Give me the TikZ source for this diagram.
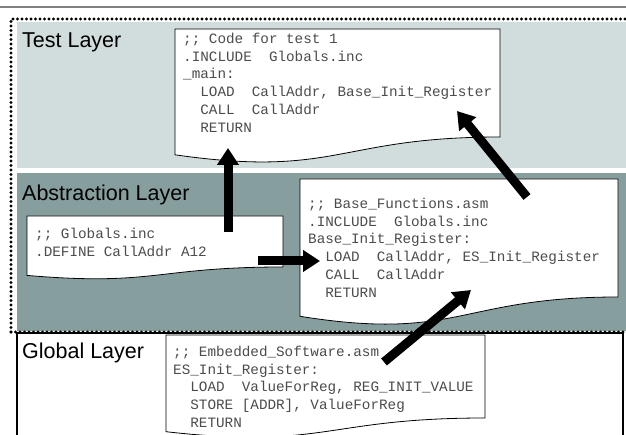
\documentclass[tikz,border=0pt]{standalone}
\usepackage{fontspec}
\setmainfont{Liberation Sans}
\setmonofont{Liberation Mono}
\usetikzlibrary{arrows.meta, positioning}
\definecolor{testfill}{RGB}{209,221,221}
\definecolor{absfill}{RGB}{134,158,158}
\definecolor{rulegray}{RGB}{128,128,128}
\newcommand{\layerfont}{\fontsize{21.5}{24}\selectfont}
\newcommand{\codefont}{\ttfamily\fontsize{14.3}{17.7}\selectfont}

\begin{document}
\begin{tikzpicture}[x=1pt, y=-1pt,
    layer/.style={anchor=base west, inner sep=0pt, font=\layerfont},
    code/.style={anchor=north west, inner sep=0pt, align=left, font=\codefont, text=black!70},
    doc/.style={draw=black, line width=0.8pt, fill=white},
    dots/.style={line width=3.2pt, line cap=round, dash pattern=on 0pt off 4.5pt},
    bigarrow/.style={line width=9pt, -{Triangle[width=21pt, length=17pt]}}]
    \useasboundingbox (0,0) rectangle (626,435);
    \clip (0,0) rectangle (626,435);

    % Rule at the top
    \draw[rulegray, line width=2pt] (0,7) -- (626,7);

    % Layers
    \fill[testfill] (17,22) rectangle (630,168);
    \fill[absfill] (17,173) rectangle (630,331);
    \draw[line width=2pt] (17,450) -- (17,333) -- (623,333) -- (623,450);
    \draw[dots] (11,332) -- (11,19) -- (640,19);
    \draw[dots] (11,332) -- (640,332);

    % Layer names
    \node[layer] (testname) at (22,48) {Test Layer};
    \node[layer] (absname) at (22,201) {Abstraction Layer};
    \node[layer] (globname) at (22,358) {Global Layer};

    % Code for test 1
    \draw[doc] (175,29) -- (500,29) -- (500,137) .. controls (337.5,137) and (337.5,178.1) .. (175,154.8) -- cycle;
    \node[code] (testcode) at (183,33) {;; Code for test 1\\.INCLUDE~~Globals.inc\\\_main:\\~~LOAD~~CallAddr, Base\_Init\_Register\\~~CALL~~CallAddr\\~~RETURN};

    % Globals.inc
    \draw[doc] (27,216) -- (283,216) -- (283,267) .. controls (155,267) and (155,286.4) .. (27,275.4) -- cycle;
    \node[code] (globcode) at (35,228) {;; Globals.inc\\.DEFINE CallAddr A12};

    % Base_Functions.asm
    \draw[doc] (300,179) -- (618,179) -- (618,297) .. controls (459,297) and (459,341.7) .. (300,316.3) -- cycle;
    \node[code] (basecode) at (308,198) {;; Base\_Functions.asm\\.INCLUDE~~Globals.inc\\Base\_Init\_Register:\\~~LOAD~~CallAddr, ES\_Init\_Register\\~~CALL~~CallAddr\\~~RETURN};

    % Embedded_Software.asm
    \draw[doc] (166,335) -- (485,335) -- (485,418) .. controls (325.5,418) and (325.5,449.6) .. (166,431.7) -- cycle;
    \node[code] (escode) at (173,346) {;; Embedded\_Software.asm\\ES\_Init\_Register:\\~~LOAD~~ValueForReg, REG\_INIT\_VALUE\\~~STORE [ADDR], ValueForReg\\~~RETURN};

    % Arrows
    \coordinate (defout) at (228,232);
    \coordinate (mainin) at (228,148);
    \coordinate (defright) at (258,261);
    \coordinate (loadin) at (320,261);
    \coordinate (baseout) at (527,197);
    \coordinate (regin) at (457,111);
    \coordinate (esout) at (384,362);
    \coordinate (retin) at (471,290);
    \draw[bigarrow] (defout) -- (mainin);
    \draw[bigarrow] (defright) -- (loadin);
    \draw[bigarrow] (baseout) -- (regin);
    \draw[bigarrow] (esout) -- (retin);
\end{tikzpicture}
\end{document}
